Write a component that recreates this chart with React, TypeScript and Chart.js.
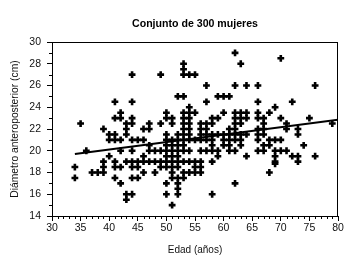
import { useEffect, useRef } from "react";
import { Chart, registerables } from "chart.js";

Chart.register(...registerables);

const titleText = "Conjunto de 300 mujeres";
const xAxisLabel = "Edad (años)";
const yAxisLabel = "Diámetro anteroposterior (cm)";

// ages (years) and the diameters observed at each age (cm)
const ageColumns = [34, 35, 36, 37, 38, 39, 40, 41, 42, 43, 44, 45, 46, 47, 48, 49, 50, 51, 52, 53, 54, 55, 56, 57, 58, 59, 60, 61, 62, 63, 64, 66, 67, 68, 69, 70, 71, 72, 73, 74, 75, 76, 79];
const diameterColumns = [
  [18.5, 17.5],
  [22.5],
  [20],
  [18],
  [18],
  [22, 19, 18.5, 18],
  [21.5, 21, 19.5],
  [24.5, 23, 21.5, 21, 19, 18.5, 17.5],
  [23.5, 23, 21, 20, 18.5, 17],
  [22.5, 22, 21.5, 19, 16, 15.5],
  [27, 24.5, 23, 22.5, 21, 20, 19, 18.5, 17.5, 16],
  [21, 19, 18.5, 17.5],
  [22, 21, 19.5, 19, 18],
  [22.5, 22, 20.5, 20, 19],
  [20, 19, 18],
  [27, 22.5, 20, 19, 18.5],
  [23.5, 23, 21.5, 21, 20.5, 20, 19.5, 19, 18.5, 17, 16],
  [23, 22.5, 21, 20.5, 20, 19.5, 19, 18.5, 18, 17.5, 15],
  [25, 21.5, 21, 20.5, 20, 19.5, 19, 18.5, 17.5, 17, 16.5, 16],
  [28, 27.5, 27, 25, 23.5, 23, 22.5, 22, 21.5, 21, 20.5, 20, 19, 18, 17.5],
  [27, 24, 23.5, 23, 22.5, 22, 21.5, 21, 20, 19, 18],
  [27, 23.5, 21, 19, 18.5, 18],
  [22.5, 22, 21.5, 21, 20, 19, 18.5, 18],
  [26, 24.5, 22.5, 22, 21.5, 21, 20],
  [23, 22.5, 21.5, 21, 20.5, 20, 19, 16],
  [25, 23, 21.5, 20, 19.5],
  [25, 23.5, 21.5, 21, 20.5],
  [25, 22, 21.5, 21, 20.5, 20],
  [29, 26, 23.5, 23, 22.5, 22, 21.5, 21, 20, 17],
  [28, 23.5, 23, 22.5, 21.5, 21, 20.5],
  [26, 23.5, 23, 21.5, 19.5],
  [26, 24.5, 23.5, 23, 22, 21.5, 21, 20],
  [23, 22.5, 22, 21.5, 20.5, 20],
  [23.5, 21, 20.5, 18],
  [24, 21, 20, 19.5, 19, 18.8],
  [28.5, 23, 21, 20],
  [22.5, 22, 20],
  [24.5, 19.5],
  [22, 21.5, 19.5, 19],
  [20.5],
  [23],
  [26, 19.5],
  [22.5],
];

// fitted regression line end points
const fitAges = [34, 80];
const fitDiameters = [19.7, 22.85];

const xMin = 30;
const xMax = 80;
const yMin = 14;
const yMax = 30;

const FONT = "'Liberation Sans', Arial, sans-serif";

const decorPlugin = {
  id: "decor",
  afterDraw(chart: any) {
    const { ctx, chartArea: a, scales } = chart;
    const xs = scales.x;
    const ys = scales.y;
    ctx.save();
    ctx.strokeStyle = "#000";
    ctx.lineWidth = 1;
    ctx.beginPath();
    // frame top and right
    ctx.moveTo(Math.round(a.left), Math.round(a.top) + 0.5);
    ctx.lineTo(Math.round(a.right), Math.round(a.top) + 0.5);
    ctx.moveTo(Math.round(a.right) - 0.5, Math.round(a.top));
    ctx.lineTo(Math.round(a.right) - 0.5, Math.round(a.bottom));
    // minor ticks
    for (let v = xMin; v <= xMax; v++) {
      if (v % 5 === 0) continue;
      const px = Math.round(xs.getPixelForValue(v)) + 0.5;
      ctx.moveTo(px, a.bottom);
      ctx.lineTo(px, a.bottom + 3);
    }
    for (let v = yMin; v <= yMax; v++) {
      if (v % 2 === 0) continue;
      const py = Math.round(ys.getPixelForValue(v)) + 0.5;
      ctx.moveTo(a.left - 3, py);
      ctx.lineTo(a.left, py);
    }
    ctx.stroke();
    // title centred over the plot area
    ctx.fillStyle = "#000";
    ctx.font = "bold 10.6px " + FONT;
    ctx.textAlign = "center";
    ctx.textBaseline = "middle";
    ctx.fillText(titleText, (a.left + a.right) / 2, 24);
    ctx.restore();
  },
};

export default function App() {
  const ref = useRef<HTMLCanvasElement | null>(null);

  useEffect(() => {
    if (!ref.current) return;
    const points: { x: number; y: number }[] = [];
    ageColumns.forEach((age, i) => {
      diameterColumns[i].forEach((d) => points.push({ x: age, y: d }));
    });
    const fit = fitAges.map((x, i) => ({ x, y: fitDiameters[i] }));

    const chart = new Chart(ref.current, {
      type: "scatter",
      data: {
        datasets: [
          {
            type: "line",
            data: fit,
            borderColor: "#000",
            borderWidth: 2,
            pointRadius: 0,
            fill: false,
          } as any,
          {
            data: points,
            pointStyle: "cross",
            pointRadius: 3.4,
            pointBorderWidth: 2.6,
            borderColor: "#000",
            backgroundColor: "#000",
          },
        ],
      },
      options: {
        animation: false,
        responsive: false,
        events: [],
        layout: { padding: { top: 42, right: 24, left: 0, bottom: 0 } },
        plugins: {
          legend: { display: false },
          tooltip: { enabled: false },
          title: { display: false },
        },
        scales: {
          x: {
            type: "linear",
            min: xMin,
            max: xMax,
            afterFit: (s: any) => {
              s.height = 46;
            },
            ticks: {
              stepSize: 5,
              color: "#111",
              font: { family: FONT, size: 10.5 },
              padding: 1,
              maxRotation: 0,
            },
            grid: {
              drawOnChartArea: false,
              drawTicks: true,
              tickLength: 5,
              color: "#000",
            },
            border: { display: true, color: "#000", width: 1 },
            title: {
              display: true,
              text: xAxisLabel,
              color: "#111",
              font: { family: FONT, size: 10 },
              padding: { top: 0, bottom: 6 },
            },
          },
          y: {
            type: "linear",
            min: yMin,
            max: yMax,
            afterFit: (s: any) => {
              s.width = 52;
            },
            ticks: {
              stepSize: 2,
              color: "#111",
              font: { family: FONT, size: 10.5 },
              padding: 6,
            },
            grid: {
              drawOnChartArea: false,
              drawTicks: true,
              tickLength: 5,
              color: "#000",
            },
            border: { display: true, color: "#000", width: 1 },
            title: {
              display: true,
              text: yAxisLabel,
              color: "#111",
              font: { family: FONT, size: 10.3 },
              padding: { top: 9, bottom: 0 },
            },
          },
        },
      },
      plugins: [decorPlugin],
    });
    return () => chart.destroy();
  }, []);

  return (
    <div style={{ position: "absolute", left: 0, top: 0, width: 362, height: 262, background: "#fff" }}>
      <canvas ref={ref} width={362} height={262} style={{ display: "block" }} />
    </div>
  );
}
